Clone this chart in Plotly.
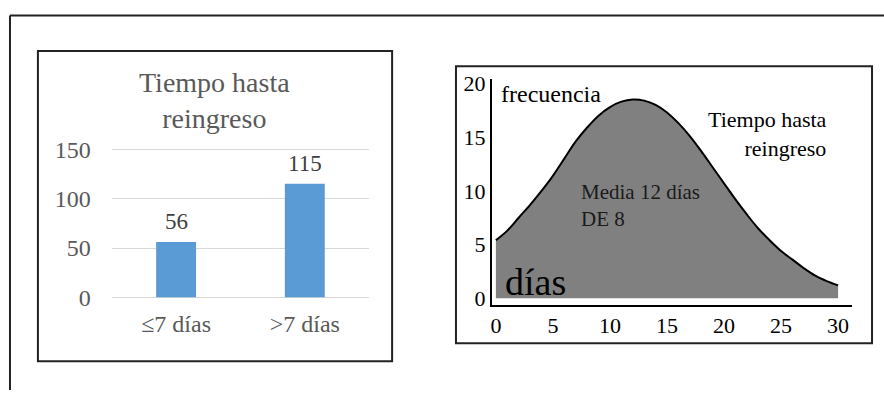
import plotly.graph_objects as go

W, H = 884, 401
SERIF = "Liberation Serif"

# Left panel: readmissions by time to readmission
categorias = ["≤7 días", ">7 días"]
pacientes = [56, 115]
ticks_barras = [0, 50, 100, 150]

# Right panel: frequency curve of days to readmission
dias = list(range(0, 31))
frecuencia = [5.4, 6.3, 7.5, 8.7, 10.0, 11.4, 13.0, 14.6, 15.9, 17.0,
              17.8, 18.3, 18.5, 18.4, 18.0, 17.3, 16.3, 15.1, 13.7, 12.2,
              10.7, 9.2, 7.8, 6.5, 5.4, 4.4, 3.6, 2.8, 2.1, 1.6, 1.2]
ticks_dias = [0, 5, 10, 15, 20, 25, 30]
ticks_frec = [0, 5, 10, 15, 20]


def fx(p):
    """Pixel column -> paper x."""
    return p / W


def fy(p):
    """Pixel row -> paper y."""
    return 1 - p / H


fig = go.Figure()

fig.add_trace(go.Bar(
    x=categorias, y=pacientes, xaxis="x", yaxis="y",
    marker=dict(color="#5B9BD5", line=dict(width=0)),
    showlegend=False,
))

fig.add_trace(go.Scatter(
    x=dias, y=frecuencia, xaxis="x2", yaxis="y2",
    mode="lines", line=dict(color="black", width=2, shape="spline"),
    fill="tozeroy", fillcolor="#808080", showlegend=False,
))

annotations = []
for cat, val in zip(categorias, pacientes):
    annotations.append(dict(
        x=cat, y=val, xref="x", yref="y", text=str(val), showarrow=False,
        yanchor="bottom", yshift=6,
        font=dict(family=SERIF, size=23, color="#404040"),
    ))

annotations += [
    dict(x=fx(213), y=fy(98), xref="paper", yref="paper",
         text="Tiempo hasta<br>reingreso", showarrow=False,
         xanchor="center", yanchor="middle",
         font=dict(family=SERIF, size=28, color="#595959")),
    dict(x=fx(498), y=fy(91), xref="paper", yref="paper", text="frecuencia",
         showarrow=False, xanchor="left", yanchor="middle",
         font=dict(family=SERIF, size=24, color="black")),
    dict(x=fx(829), y=fy(133), xref="paper", yref="paper",
         text="Tiempo hasta<br>reingreso", showarrow=False, align="right",
         xanchor="right", yanchor="middle",
         font=dict(family=SERIF, size=22, color="black")),
    dict(x=fx(578), y=fy(208), xref="paper", yref="paper",
         text="Media 12 días<br>DE 8", showarrow=False, align="left",
         xanchor="left", yanchor="middle",
         font=dict(family=SERIF, size=21, color="#1a1a1a")),
    dict(x=fx(502), y=fy(288), xref="paper", yref="paper", text="días",
         showarrow=False, xanchor="left", yanchor="middle",
         font=dict(family=SERIF, size=38, color="black")),
]

frame = dict(color="#222222", width=2)
shapes = [
    dict(type="line", xref="paper", yref="paper",
         x0=fx(8), y0=fy(9), x1=1, y1=fy(9), line=frame),
    dict(type="line", xref="paper", yref="paper",
         x0=fx(8), y0=fy(9), x1=fx(8), y1=0, line=frame),
    dict(type="rect", xref="paper", yref="paper",
         x0=fx(36), y0=fy(371), x1=fx(391), y1=fy(46), line=frame),
    dict(type="rect", xref="paper", yref="paper",
         x0=fx(455), y0=fy(352), x1=fx(872), y1=fy(62), line=frame),
]

# bar panel scale: 0 at row 304, 150 at row 149
k = (304 - 149) / 150.0
y_lo, y_hi = -2.0, 155.0

# curve panel scale: day 0 at column 495, day 30 at column 838
kx = (838 - 495) / 30.0
ky = 11.25
zero_y = 305

fig.update_layout(
    width=W, height=H, autosize=False,
    margin=dict(l=0, r=0, t=0, b=0, pad=0),
    paper_bgcolor="white", plot_bgcolor="white",
    font=dict(family=SERIF),
    bargap=0.69,
    xaxis=dict(
        domain=[fx(110), fx(368)], type="category",
        showline=False, showgrid=False, zeroline=False, ticks="",
        tickfont=dict(family=SERIF, size=24, color="#595959"),
        ticklabelstandoff=8, anchor="y", fixedrange=True,
    ),
    yaxis=dict(
        domain=[fy(304 + y_lo * -k), fy(304 - y_hi * k)],
        range=[y_lo, y_hi], tickvals=ticks_barras,
        showgrid=True, gridcolor="#d9d9d9", gridwidth=1,
        zeroline=False, showline=False, ticks="",
        tickfont=dict(family=SERIF, size=24, color="#595959"),
        ticklabelstandoff=20, anchor="x", fixedrange=True,
    ),
    xaxis2=dict(
        domain=[fx(491), fx(852)],
        range=[(491 - 495) / kx, (852 - 495) / kx],
        tickvals=ticks_dias, showgrid=False, zeroline=False,
        showline=True, linecolor="black", linewidth=2, ticks="",
        tickfont=dict(family=SERIF, size=22, color="black"),
        anchor="y2", fixedrange=True,
    ),
    yaxis2=dict(
        domain=[fy(312), fy(75)],
        range=[-(312 - zero_y) / ky, (zero_y - 75) / ky],
        tickvals=ticks_frec, showgrid=False, zeroline=False,
        showline=True, linecolor="black", linewidth=2, ticks="",
        tickfont=dict(family=SERIF, size=22, color="black"),
        anchor="x2", fixedrange=True,
    ),
    annotations=annotations,
    shapes=shapes,
)

fig.write_html("out.html", config={"displayModeBar": False})
